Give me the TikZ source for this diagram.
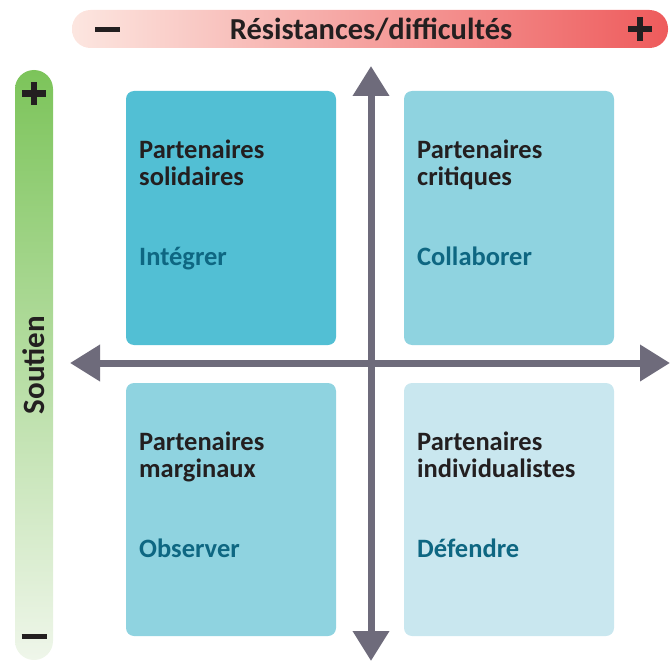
\documentclass[tikz,border=0pt]{standalone}
\usepackage{fontspec}
\setmainfont{Carlito}
\usetikzlibrary{arrows.meta}
\definecolor{txt}{HTML}{231F20}
\definecolor{act}{HTML}{0E6782}
\definecolor{axis}{HTML}{6E6B7B}
\definecolor{boxA}{HTML}{52BFD4}
\definecolor{boxB}{HTML}{8FD3E0}
\definecolor{boxC}{HTML}{C9E7EF}
\definecolor{redL}{HTML}{FCE6E0}
\definecolor{redR}{HTML}{EE5B5C}
\definecolor{grnT}{HTML}{7CC45A}
\definecolor{grnB}{HTML}{EFF6EA}
\newcommand{\plussign}{\rule[9pt]{24pt}{6pt}\llap{\rule{6pt}{24pt}\hspace{9pt}}}
\newcommand{\minussign}{\rule{25pt}{5pt}}
\tikzset{
  quad/.style={rounded corners=8pt, draw=none},
  ttl/.style={font=\bfseries\fontsize{26.5}{27}\selectfont, text=txt, anchor=base west, align=left, inner sep=0pt},
  actword/.style={font=\bfseries\fontsize{26.5}{27}\selectfont, text=act, anchor=base west, inner sep=0pt},
  sign/.style={text=txt, inner sep=0pt},
  axisline/.style={draw=axis, line width=7pt, {Triangle[width=35pt,length=30pt]}-{Triangle[width=35pt,length=30pt]}}
}
\begin{document}
\begin{tikzpicture}[x=1pt,y=-1pt]
\useasboundingbox (0,0) rectangle (670,661);
% top bar
\shade[rounded corners=18.5pt, left color=redL, right color=redR] (72,10) rectangle (668,48);
\node[font=\bfseries\fontsize{30.5}{32}\selectfont, text=txt] (rtitle) at (371,29) {Résistances/difficultés};
\node[sign] (rminus) at (107.5,29.5) {\minussign};
\node[sign] (rplus) at (640,29.5) {\plussign};
% left bar
\shade[rounded corners=19pt, top color=grnT, bottom color=grnB] (15,70) rectangle (53,660);
\node[sign] (splus) at (34,93.5) {\plussign};
\node[sign] (sminus) at (34,636.5) {\minussign};
\node[font=\bfseries\fontsize{31}{32}\selectfont, text=txt, rotate=90] (stitle) at (34,365) {Soutien};
% quadrants
\fill[quad, boxA] (126,91) rectangle (336,345);
\fill[quad, boxB] (404,91) rectangle (614,345);
\fill[quad, boxB] (126,383) rectangle (336,636);
\fill[quad, boxC] (404,383) rectangle (614,636);
\node[ttl] (q1) at (139,185) {Partenaires\\solidaires};
\node[actword] (a1) at (139,265) {Intégrer};
\node[ttl] (q2) at (417,185) {Partenaires\\critiques};
\node[actword] (a2) at (417,265) {Collaborer};
\node[ttl] (q3) at (139,477) {Partenaires\\marginaux};
\node[actword] (a3) at (139,557) {Observer};
\node[ttl] (q4) at (417,477) {Partenaires\\individualistes};
\node[actword] (a4) at (417,557) {Défendre};
% axes
\coordinate (xl) at (70,363);
\coordinate (xr) at (670,363);
\coordinate (yt) at (371,66);
\coordinate (yb) at (371,661);
\draw[axisline] (xl) -- (xr);
\draw[axisline] (yb) -- (yt);
\end{tikzpicture}
\end{document}
